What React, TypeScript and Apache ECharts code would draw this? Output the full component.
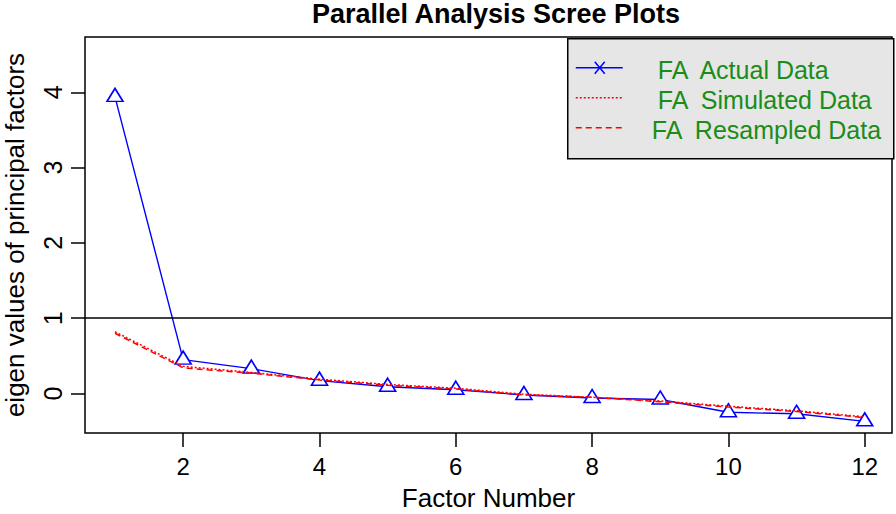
import React, { useEffect, useRef } from "react";
import * as echarts from "echarts";

const factors = [1, 2, 3, 4, 5, 6, 7, 8, 9, 10, 11, 12];
const actualData = [3.94, 0.45, 0.33, 0.17, 0.09, 0.05, -0.02, -0.06, -0.08, -0.25, -0.27, -0.37];
const simulatedData = [0.82, 0.36, 0.28, 0.19, 0.12, 0.07, -0.01, -0.05, -0.1, -0.17, -0.23, -0.31];
const resampledData = [0.8, 0.34, 0.27, 0.18, 0.11, 0.06, -0.02, -0.05, -0.11, -0.18, -0.24, -0.32];
const xTicks = [2, 4, 6, 8, 10, 12];
const yTicks = [0, 1, 2, 3, 4];
const legendLabels = ["FA  Actual Data", "FA  Simulated Data", "FA  Resampled Data"];
const refLine = 1;

const FONT = "'Liberation Sans', Arial, Helvetica, sans-serif";

export default function App() {
  const ref = useRef<HTMLDivElement>(null);
  useEffect(() => {
    if (!ref.current) return;
    const chart = echarts.init(ref.current, undefined, { renderer: "svg" });
    const pair = (arr: number[]) => factors.map((f, i) => [f, arr[i]]);
    const green = "#1a8c1a";
    const option: any = {
      animation: false,
      backgroundColor: "#ffffff",
      title: {
        text: "Parallel Analysis Scree Plots",
        left: 491,
        top: -5,
        textAlign: "center",
        textStyle: { fontFamily: FONT, fontWeight: "bold", fontSize: 27, color: "#000" },
      },
      grid: {
        left: 85, right: 4, top: 37, bottom: 81,
        containLabel: false, outerBoundsMode: "none",
        show: true, borderColor: "#000", borderWidth: 1.5, backgroundColor: "transparent",
      },
      xAxis: {
        type: "value",
        min: 0.56,
        max: 12.4,
        name: "Factor Number",
        nameLocation: "middle",
        nameGap: 52,
        nameTextStyle: { fontFamily: FONT, fontSize: 26, color: "#000" },
        axisLine: { show: false, onZero: false },
        splitLine: { show: false },
        axisTick: { show: true, length: 14, customValues: xTicks, lineStyle: { color: "#000", width: 1.5 } },
        axisLabel: { customValues: xTicks, fontFamily: FONT, fontSize: 24, color: "#000", margin: 21 },
      },
      yAxis: {
        type: "value",
        min: -0.525,
        max: 4.735,
        name: "eigen values of principal factors",
        nameLocation: "middle",
        nameRotate: 90,
        nameGap: 57,
        nameTextStyle: { fontFamily: FONT, fontSize: 26, color: "#000" },
        axisLine: { show: false, onZero: false },
        splitLine: { show: false },
        axisTick: { show: true, length: 14, customValues: yTicks, lineStyle: { color: "#000", width: 1.5 } },
        axisLabel: { customValues: yTicks, rotate: 90, fontFamily: FONT, fontSize: 25, color: "#000", margin: 20 },
      },
      series: [
        {
          name: "Actual",
          type: "line",
          data: pair(actualData),
          symbol: "triangle",
          symbolSize: [16, 13],
          symbolOffset: [0, -2],
          showAllSymbol: true,
          lineStyle: { color: "#0000ff", width: 1.4 },
          itemStyle: { color: "#ffffff", borderColor: "#0000ff", borderWidth: 1.6 },
          markLine: {
            silent: true,
            symbol: "none",
            label: { show: false },
            lineStyle: { color: "#000", width: 1.5, type: "solid" },
            data: [{ yAxis: refLine }],
          },
          z: 2,
        },
        {
          name: "Simulated",
          type: "line",
          data: pair(simulatedData),
          symbol: "none",
          lineStyle: { color: "#ff0000", width: 1.5, type: [2, 2] },
          z: 3,
        },
        {
          name: "Resampled",
          type: "line",
          data: pair(resampledData),
          symbol: "none",
          lineStyle: { color: "#ff0000", width: 1.5, type: [6, 4] },
          z: 3,
        },
      ],
      graphic: [
        {
          type: "group",
          left: 567,
          top: 38,
          children: [
            { type: "rect", shape: { x: 0, y: 0, width: 326, height: 120 }, style: { fill: "#e6e6e6", stroke: "#000", lineWidth: 1.5 } },
            { type: "line", shape: { x1: 8, y1: 29, x2: 55, y2: 29 }, style: { stroke: "#0000ff", lineWidth: 1.5 } },
            { type: "line", shape: { x1: 27, y1: 23, x2: 37, y2: 35 }, style: { stroke: "#0000ff", lineWidth: 1.5 } },
            { type: "line", shape: { x1: 27, y1: 35, x2: 37, y2: 23 }, style: { stroke: "#0000ff", lineWidth: 1.5 } },
            { type: "line", shape: { x1: 8, y1: 59, x2: 55, y2: 59 }, style: { stroke: "#ff0000", lineWidth: 1.5, lineDash: [2, 2] } },
            { type: "line", shape: { x1: 8, y1: 89, x2: 55, y2: 89 }, style: { stroke: "#ff0000", lineWidth: 1.5, lineDash: [6, 4] } },
            { type: "text", x: 90, y: 31, style: { text: legendLabels[0], fill: green, font: `25px ${FONT}`, textVerticalAlign: "middle" } },
            { type: "text", x: 90, y: 61, style: { text: legendLabels[1], fill: green, font: `25px ${FONT}`, textVerticalAlign: "middle" } },
            { type: "text", x: 84, y: 91, style: { text: legendLabels[2], fill: green, font: `25px ${FONT}`, textVerticalAlign: "middle" } },
          ],
        },
      ],
    };
    chart.setOption(option);
    return () => chart.dispose();
  }, []);
  return <div ref={ref} style={{ position: "fixed", left: 0, top: 0, width: 896, height: 514 }} />;
}
